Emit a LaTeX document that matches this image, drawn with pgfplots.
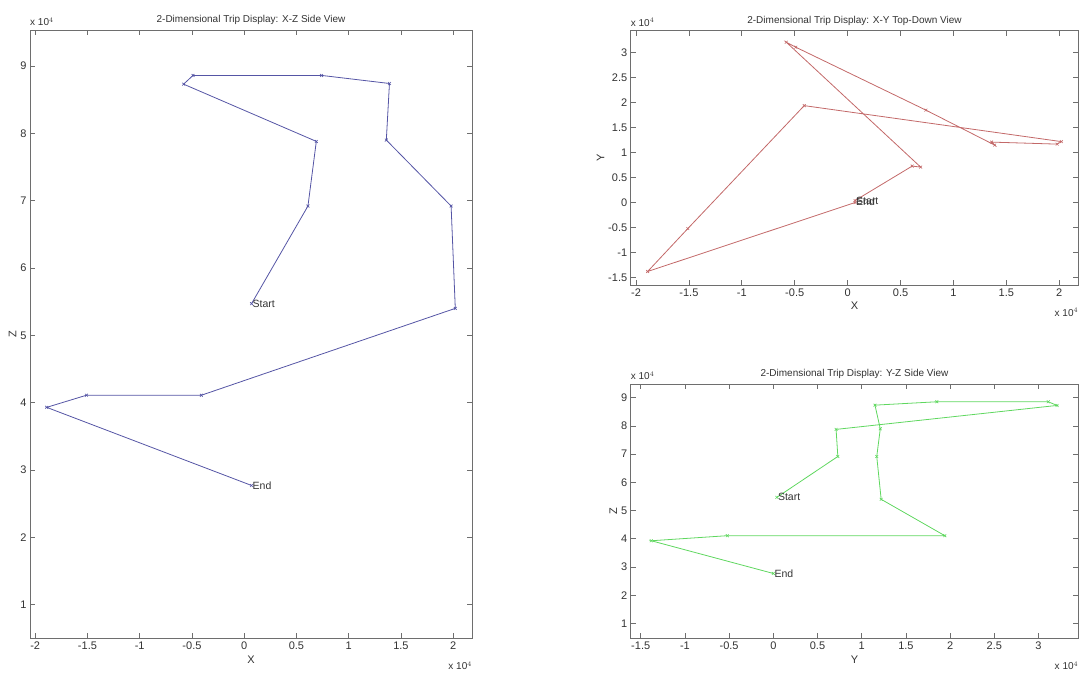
\documentclass[border=0pt]{standalone}
\usepackage{pgfplots}
\pgfplotsset{compat=1.18}
\usepackage{fontspec}
\setmainfont{Liberation Sans}
\definecolor{tripblue}{RGB}{85,85,165}
\definecolor{tripred}{RGB}{195,105,105}
\definecolor{tripgreen}{RGB}{95,215,95}
\definecolor{framegray}{RGB}{110,110,110}
\definecolor{txtgray}{RGB}{50,50,50}

\pgfplotstableread{
X Y Z
0.07 0.04 5.47
0.61 0.73 6.92
0.69 0.71 7.88
-0.58 3.21 8.73
-0.49 3.11 8.86
0.74 1.85 8.86
1.39 1.15 8.74
1.36 1.21 7.90
1.98 1.17 6.92
2.02 1.22 5.40
-0.41 1.94 4.11
-1.51 -0.52 4.11
-1.89 -1.38 3.93
0.07 0.00 2.77
}\trip

\tikzset{
  lbl/.style={font=\fontsize{10.5}{12}\selectfont, text=black!80},
  sc/.style={font=\fontsize{10}{12}\selectfont, text=txtgray},
}
\pgfplotsset{
  mlab/.style={
    scale only axis,
    clip=false,
    axis line style={framegray, line width=0.9pt},
    tick style={framegray, line width=0.8pt},
    major tick length=5pt,
    tick align=inside,
    xtick pos=both, ytick pos=both,
    ticklabel style={font=\fontsize{11}{13}\selectfont, text=txtgray},
    /pgf/number format/assume math mode=true,
    /pgf/number format/fixed,
    label style={font=\fontsize{11}{13}\selectfont, text=txtgray},
    title style={font=\fontsize{10}{12}\selectfont, text=txtgray, yshift=-4pt},
    xlabel style={yshift=1pt},
    ylabel style={yshift=-3pt},
    every axis plot/.append style={line width=0.8pt, mark=x, mark size=2pt, mark options={line width=0.6pt}},
    anchor=south west,
  },
}

\begin{document}
\begin{tikzpicture}
\path[use as bounding box] (0pt,0pt) rectangle (1091pt,672pt);

% Left: X-Z side view
\begin{axis}[mlab, at={(30pt,33.7pt)}, width=442pt, height=608pt,
  xmin=-2.05, xmax=2.18, ymin=0.5, ymax=9.53,
  xtick={-2,-1.5,...,2}, ytick={1,2,...,9},
  title={2-Dimensional Trip Display: X-Z Side View},
  xlabel={X}, ylabel={Z}]
\addplot[tripblue] table[x=X, y=Z] {\trip};
\node[lbl, anchor=west, inner sep=1pt] at (axis cs:0.07,5.47) {Start};
\node[lbl, anchor=west, inner sep=1pt] at (axis cs:0.07,2.77) {End};
\node[sc, anchor=south west, inner sep=0pt, yshift=4pt] at (rel axis cs:0,1) {x 10$^4$};
\node[sc, anchor=north east, inner sep=0pt, yshift=-23pt] at (rel axis cs:1,0) {x 10$^4$};
\end{axis}

% Top right: X-Y top-down view
\begin{axis}[mlab, at={(630.7pt,387pt)}, width=447.6pt, height=254.3pt,
  xmin=-2.05, xmax=2.18, ymin=-1.65, ymax=3.44,
  xtick={-2,-1.5,...,2}, ytick={-1.5,-1,...,3},
  title={2-Dimensional Trip Display: X-Y Top-Down View},
  xlabel={X}, ylabel={Y}]
\addplot[tripred] table[x=X, y=Y] {\trip};
\node[lbl, anchor=west, inner sep=1pt] at (axis cs:0.07,0.035) {Start};
\node[lbl, anchor=west, inner sep=1pt] at (axis cs:0.07,0.02) {End};
\node[sc, anchor=south west, inner sep=0pt, yshift=4pt] at (rel axis cs:0,1) {x 10$^4$};
\node[sc, anchor=north east, inner sep=0pt, yshift=-23pt] at (rel axis cs:1,0) {x 10$^4$};
\end{axis}

% Bottom right: Y-Z side view
\begin{axis}[mlab, at={(630.7pt,33.7pt)}, width=447.6pt, height=254.3pt,
  xmin=-1.613, xmax=3.45, ymin=0.47, ymax=9.49,
  xtick={-1.5,-1,...,3}, ytick={1,2,...,9},
  title={2-Dimensional Trip Display: Y-Z Side View},
  xlabel={Y}, ylabel={Z}]
\addplot[tripgreen] table[x=Y, y=Z] {\trip};
\node[lbl, anchor=west, inner sep=1pt] at (axis cs:0.04,5.47) {Start};
\node[lbl, anchor=west, inner sep=1pt] at (axis cs:0.00,2.77) {End};
\node[sc, anchor=south west, inner sep=0pt, yshift=4pt] at (rel axis cs:0,1) {x 10$^4$};
\node[sc, anchor=north east, inner sep=0pt, yshift=-23pt] at (rel axis cs:1,0) {x 10$^4$};
\end{axis}
\end{tikzpicture}
\end{document}
